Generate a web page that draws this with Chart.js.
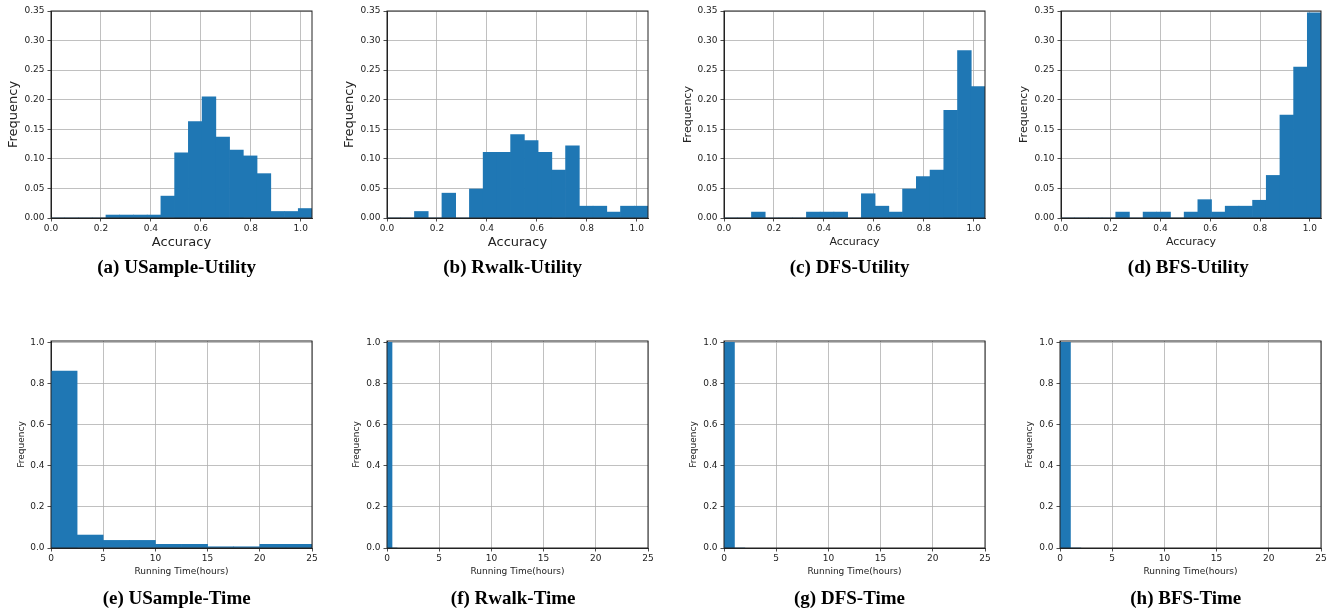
<!DOCTYPE html>
<html>
<head>
<meta charset="utf-8">
<script src="https://cdn.jsdelivr.net/npm/chart.js@4.4.0/dist/chart.umd.min.js"></script>
<style>
  body { margin: 0; background: #fff; width: 1335px; height: 614px; position: relative; overflow: hidden; }
  canvas { position: absolute; }
  .cap { position: absolute; font: bold 19px "Liberation Serif", serif; color: #000; white-space: nowrap; transform: translate(-50%, -50%); }
</style>
</head>
<body>
<script>
// accuracy histograms: 19 bins of width 0.055 starting at 0
const accBinWidth = 0.055;
const usampleAcc = [0, 0, 0, 0, 0.005, 0.005, 0.005, 0.005, 0.037, 0.110, 0.163, 0.205, 0.137, 0.115, 0.105, 0.075, 0.011, 0.011, 0.016];
const rwalkAcc   = [0, 0, 0.011, 0, 0.042, 0, 0.049, 0.111, 0.111, 0.141, 0.131, 0.111, 0.081, 0.122, 0.020, 0.020, 0.010, 0.020, 0.020];
const dfsAcc     = [0, 0, 0.010, 0, 0, 0, 0.010, 0.010, 0.010, 0, 0.041, 0.020, 0.010, 0.049, 0.070, 0.081, 0.182, 0.283, 0.222];
const bfsAcc     = [0, 0, 0, 0, 0.010, 0, 0.010, 0.010, 0, 0.010, 0.031, 0.010, 0.020, 0.020, 0.030, 0.072, 0.174, 0.255, 0.347];

// running time histograms (hours)
const usampleTimeBin = 2.5;
const usampleTime = [0.861, 0.063, 0.037, 0.037, 0.018, 0.018, 0.006, 0.006, 0.018, 0.018];
const rwalkTimeBin = 0.48;
const rwalkTime = [1.0, 0];
const dfsTimeBin = 1;
const dfsTime = [1.0, 0];
const bfsTimeBin = 1;
const bfsTime = [1.0, 0];

const accTicks = { min: 0, max: 1.045, step: 0.2, digits: 1 };
const accFreq  = { min: 0, max: 0.35, step: 0.05, digits: 2 };
const timeTicks = { min: 0, max: 25, step: 5, digits: 0 };
const timeFreq  = { min: 0, max: 1.007, step: 0.2, digits: 1 };

const captions = ['(a) USample-Utility', '(b) Rwalk-Utility', '(c) DFS-Utility', '(d) BFS-Utility',
                  '(e) USample-Time', '(f) Rwalk-Time', '(g) DFS-Time', '(h) BFS-Time'];

Chart.defaults.font.family = '"DejaVu Sans", sans-serif';
Chart.defaults.color = '#222';

const Wy = 50, Hx = 40, padTop = 10, padRight = 14;

const panels = [
  { values: usampleAcc, bin: accBinWidth, xs: accTicks, ys: accFreq, xlabel: 'Accuracy', L: 51,   T: 11,  R: 312,  B: 218, fs: 13, d: 37.5, e: 24.7, cx: 176.7,  cy: 267 },
  { values: rwalkAcc,   bin: accBinWidth, xs: accTicks, ys: accFreq, xlabel: 'Accuracy', L: 387,  T: 11,  R: 648,  B: 218, fs: 13, d: 37.3, e: 24.7, cx: 512.7,  cy: 267 },
  { values: dfsAcc,     bin: accBinWidth, xs: accTicks, ys: accFreq, xlabel: 'Accuracy', L: 724,  T: 11,  R: 985,  B: 218, fs: 11, d: 36.3, e: 24,   cx: 849.7,  cy: 267 },
  { values: bfsAcc,     bin: accBinWidth, xs: accTicks, ys: accFreq, xlabel: 'Accuracy', L: 1061, T: 11,  R: 1321, B: 218, fs: 11, d: 36.7, e: 24,   cx: 1188.3, cy: 267 },
  { values: usampleTime, bin: usampleTimeBin, xs: timeTicks, ys: timeFreq, xlabel: 'Running Time(hours)', L: 51,   T: 341, R: 312,  B: 548, fs: 9, d: 29.3, e: 23.4, cx: 176.7,  cy: 598 },
  { values: rwalkTime,   bin: rwalkTimeBin,   xs: timeTicks, ys: timeFreq, xlabel: 'Running Time(hours)', L: 387,  T: 341, R: 648,  B: 548, fs: 9, d: 30,   e: 23.4, cx: 513.2,  cy: 598 },
  { values: dfsTime,     bin: dfsTimeBin,     xs: timeTicks, ys: timeFreq, xlabel: 'Running Time(hours)', L: 724,  T: 341, R: 985,  B: 548, fs: 9, d: 30.3, e: 23.4, cx: 849.5,  cy: 598 },
  { values: bfsTime,     bin: bfsTimeBin,     xs: timeTicks, ys: timeFreq, xlabel: 'Running Time(hours)', L: 1060, T: 341, R: 1321, B: 548, fs: 9, d: 30.3, e: 23.4, cx: 1185.8, cy: 598 }
];

// matplotlib draws all four spines
const frame = {
  id: 'frame',
  afterDraw(chart) {
    const a = chart.chartArea;
    const ctx = chart.ctx;
    ctx.save();
    ctx.strokeStyle = '#222';
    ctx.lineWidth = 1;
    ctx.strokeRect(a.left, a.top, a.right - a.left, a.bottom - a.top);
    ctx.restore();
  }
};

function gridOpts() {
  return { color: '#b0b0b0', lineWidth: 0.8, tickLength: 3.5, tickColor: '#222', tickWidth: 0.8, offset: false };
}

function makePanel(p, i) {
  const canvas = document.createElement('canvas');
  const w = p.R - p.L + Wy + padRight;
  const h = p.B - p.T + padTop + Hx;
  canvas.width = w;
  canvas.height = h;
  canvas.style.left = (p.L - Wy) + 'px';
  canvas.style.top = (p.T - padTop) + 'px';
  document.body.appendChild(canvas);

  const lh = p.fs * 1.2;
  const data = p.values.map((v, k) => ({ x: p.bin * k + p.bin / 2, y: v }));

  new Chart(canvas, {
    type: 'bar',
    data: {
      datasets: [{
        data: data,
        backgroundColor: '#1f77b4',
        borderWidth: 0,
        barPercentage: 1,
        categoryPercentage: 1
      }]
    },
    options: {
      responsive: false,
      animation: false,
      layout: { padding: { top: padTop, right: padRight, left: 0, bottom: 0 } },
      plugins: { legend: { display: false }, tooltip: { enabled: false } },
      scales: {
        x: {
          type: 'linear',
          z: 1,
          offset: false,
          min: p.xs.min,
          max: p.xs.max,
          grid: gridOpts(),
          border: { color: '#222', width: 1 },
          ticks: {
            stepSize: p.xs.step,
            includeBounds: false,
            padding: 2,
            maxRotation: 0,
            font: { size: 9 },
            callback: v => Number(v).toFixed(p.xs.digits)
          },
          title: { display: true, text: p.xlabel, font: { size: p.fs }, padding: { top: 0, bottom: Hx - p.e - lh / 2 } },
          afterFit: s => { s.height = Hx; }
        },
        y: {
          z: 1,
          min: p.ys.min,
          max: p.ys.max,
          grid: gridOpts(),
          border: { color: '#222', width: 1 },
          ticks: {
            stepSize: p.ys.step,
            includeBounds: false,
            padding: 3,
            font: { size: 9 },
            callback: v => Number(v).toFixed(p.ys.digits)
          },
          title: { display: true, text: 'Frequency', font: { size: p.fs }, padding: { top: Wy - p.d - lh / 2, bottom: 0 } },
          afterFit: s => { s.width = Wy; }
        }
      }
    },
    plugins: [frame]
  });

  const cap = document.createElement('div');
  cap.className = 'cap';
  cap.textContent = captions[i];
  cap.style.left = p.cx + 'px';
  cap.style.top = p.cy + 'px';
  document.body.appendChild(cap);
}

panels.forEach(makePanel);
</script>
</body>
</html>
